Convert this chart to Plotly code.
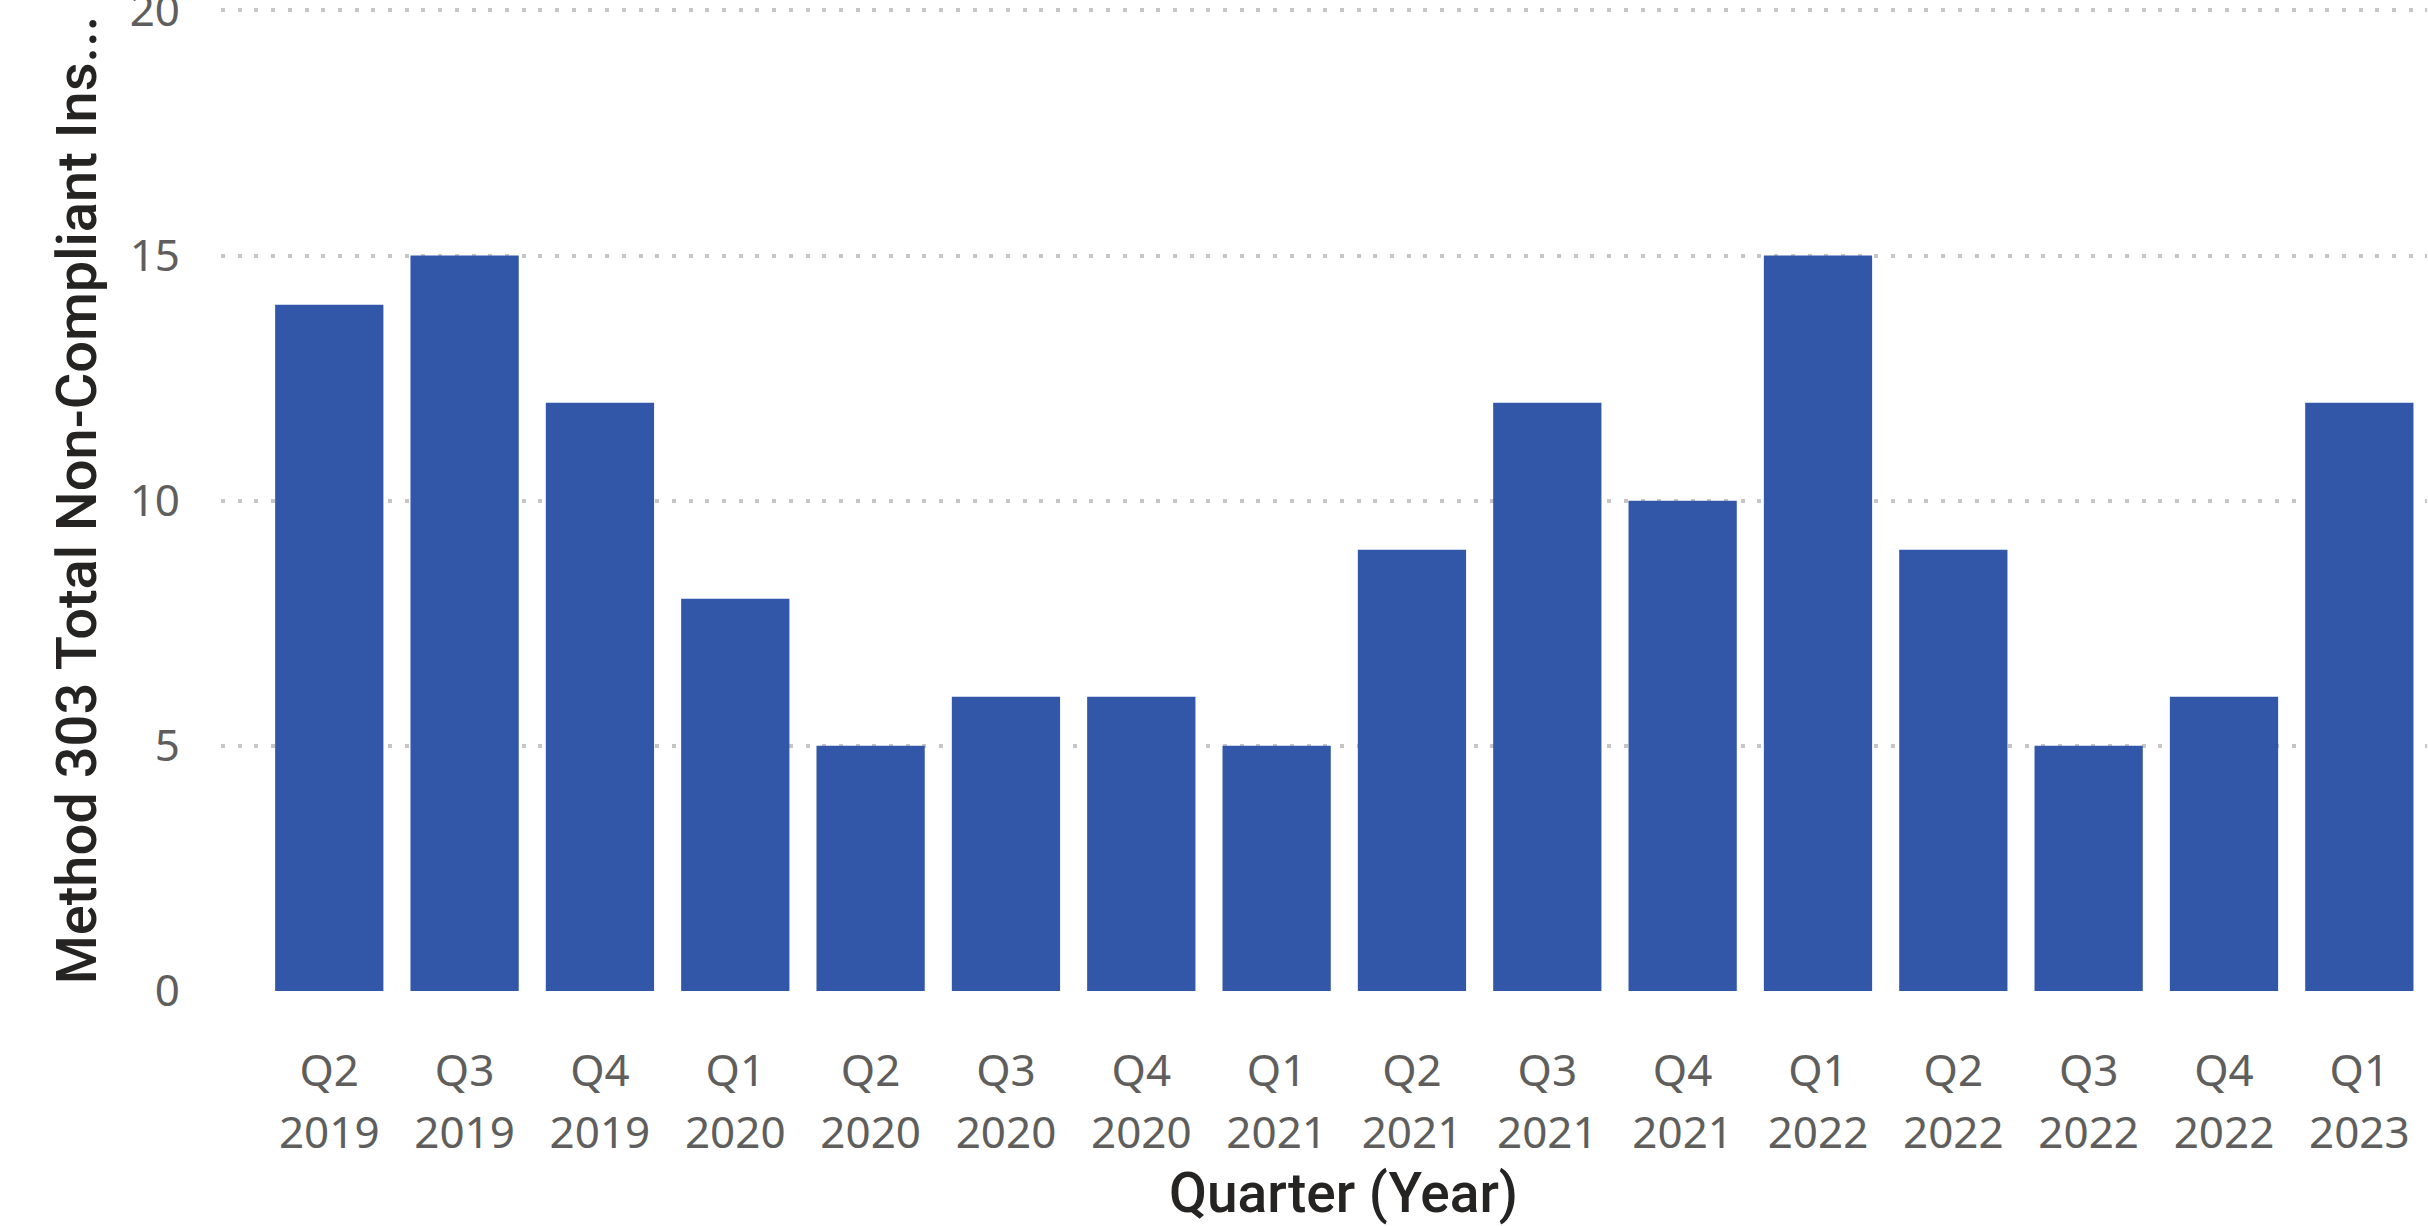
import plotly.graph_objects as go

quarters = ["Q2", "Q3", "Q4", "Q1", "Q2", "Q3", "Q4", "Q1", "Q2", "Q3", "Q4", "Q1", "Q2", "Q3", "Q4", "Q1"]
years = ["2019", "2019", "2019", "2020", "2020", "2020", "2020", "2021", "2021", "2021", "2021", "2022", "2022", "2022", "2022", "2023"]
values = [14, 15, 12, 8, 5, 6, 6, 5, 9, 12, 10, 15, 9, 5, 6, 12]
y_ticks = [0, 5, 10, 15, 20]
x_title = "Quarter (Year)"
y_title = "Method 303 Total Non-Compliant Ins..."

positions = list(range(len(quarters)))
x_range = [-0.8, len(quarters) - 0.5]

fig = go.Figure()
fig.add_trace(
    go.Bar(
        x=positions,
        y=values,
        marker=dict(color="#3257A8", line=dict(width=0)),
        customdata=[f"{q} {y}" for q, y in zip(quarters, years)],
        hovertemplate="%{customdata}: %{y}<extra></extra>",
    )
)
# invisible helper trace so the quarter-label axis is drawn
fig.add_trace(
    go.Scatter(
        x=positions,
        y=values,
        xaxis="x2",
        mode="markers",
        marker=dict(size=1, opacity=0),
        hoverinfo="skip",
        showlegend=False,
    )
)

tick_font = dict(family="Noto Sans, Open Sans, sans-serif", size=44, color="#605E5C")
x_title_font = dict(family="Roboto, sans-serif", size=55, color="#252423", weight=500)
y_title_font = dict(family="Roboto, sans-serif", size=56, color="#252423", weight=500)

fig.update_layout(
    width=2428,
    height=1226,
    margin=dict(l=221, r=1, t=9, b=235, autoexpand=False),
    paper_bgcolor="white",
    plot_bgcolor="white",
    bargap=0.2,
    showlegend=False,
    xaxis=dict(
        tickmode="array",
        tickvals=positions,
        ticktext=years,
        range=x_range,
        showgrid=False,
        zeroline=False,
        showline=False,
        ticks="",
        automargin=False,
        tickfont=tick_font,
        ticklabelstandoff=112,
    ),
    xaxis2=dict(
        overlaying="x",
        side="bottom",
        anchor="y",
        tickmode="array",
        tickvals=positions,
        ticktext=quarters,
        range=x_range,
        showgrid=False,
        zeroline=False,
        showline=False,
        ticks="",
        automargin=False,
        tickfont=tick_font,
        ticklabelstandoff=50,
    ),
    yaxis=dict(
        range=[0, 20.03],
        tickvals=y_ticks,
        showgrid=True,
        gridcolor="#C8C6C4",
        gridwidth=4,
        griddash="4px,12.7px",
        zeroline=False,
        showline=False,
        ticks="",
        automargin=False,
        ticklabeloverflow="allow",
        tickfont=tick_font,
        ticklabelstandoff=40,
        title=dict(text=y_title, font=y_title_font, standoff=15),
    ),
    annotations=[
        dict(
            text=x_title,
            xref="paper",
            yref="paper",
            x=0.509,
            y=-0.171,
            xanchor="center",
            yanchor="top",
            showarrow=False,
            font=x_title_font,
        )
    ],
)

fig.write_html(
    "out.html",
    config={"displayModeBar": False},
    post_script="document.body.style.margin='0';document.body.style.overflow='hidden';",
)
